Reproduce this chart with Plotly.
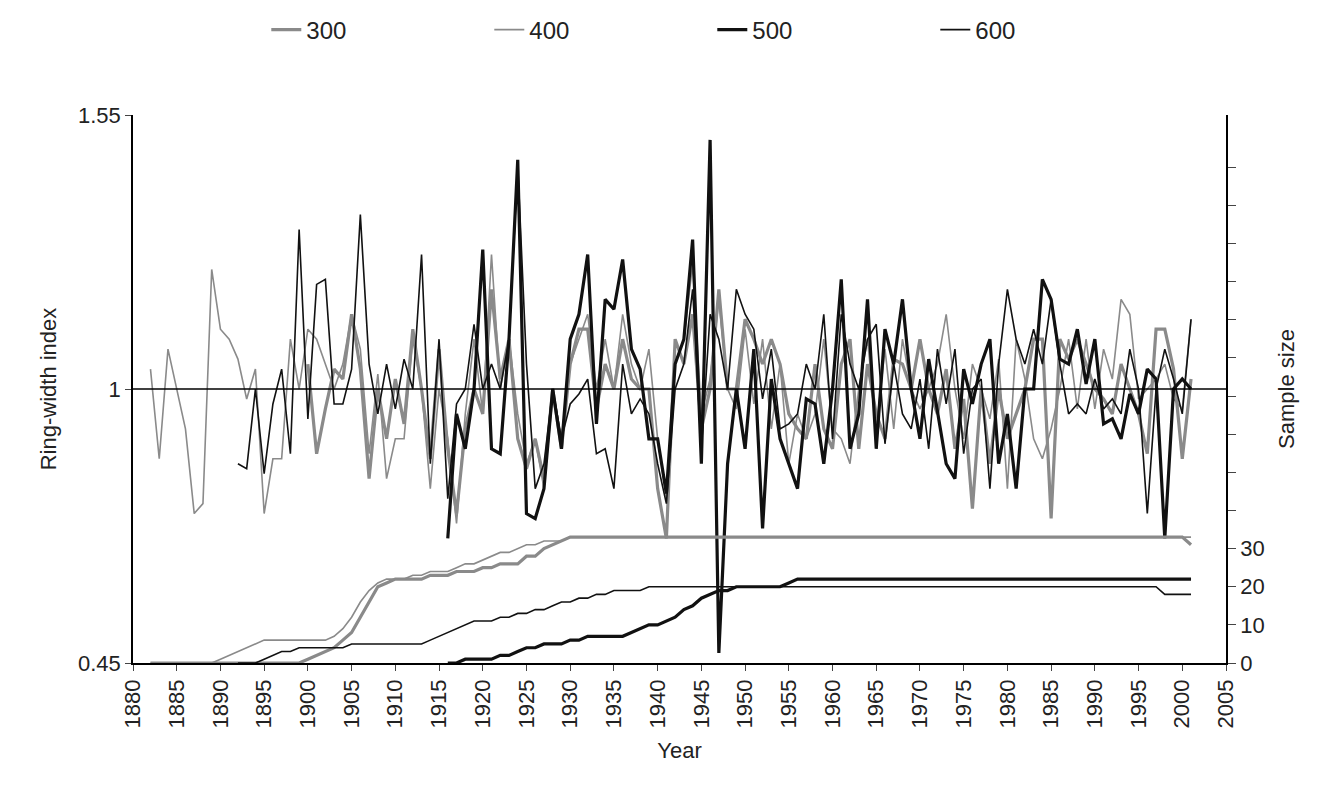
import plotly.graph_objects as go

# --- ring-width index series ---
years_400 = list(range(1882, 2002))
rwi_400 = [1.04, 0.86, 1.08, 1.00, 0.92, 0.75, 0.77, 1.24, 1.12, 1.10, 1.06, 0.98, 1.04, 0.75, 0.86, 0.86,
           1.10, 1.00, 1.12, 1.10, 1.05, 1.00, 1.05, 1.15, 1.08, 0.87, 1.03, 0.82, 0.90, 0.90,
           1.10, 1.00, 0.80, 1.00, 0.90, 0.73, 0.95, 1.10, 0.95, 1.27, 1.00, 1.10, 0.95, 0.85,
           0.90, 0.80, 1.00, 0.90, 1.05, 1.10, 1.15, 1.00, 1.10, 1.00, 1.15, 1.05, 1.00, 1.08,
           0.90, 0.78, 1.05, 1.10, 1.25, 0.95, 1.02, 1.18, 1.00, 0.96, 1.12, 0.97, 1.10, 0.92,
           1.05, 0.85, 0.95, 0.90, 0.95, 1.10, 0.92, 0.90, 0.85, 1.00, 1.10, 0.92, 1.08, 0.92,
           1.10, 1.00, 0.96, 1.00, 1.05, 1.15, 1.00, 0.90, 1.05, 1.00, 0.94, 1.06, 0.80, 1.10,
           1.02, 0.90, 0.86, 0.92, 1.00, 1.10, 0.96, 1.10, 0.96, 1.08, 1.02, 1.18, 1.15, 0.98,
           1.00, 1.02, 1.05, 0.98, 0.96, 1.14]
years_600 = list(range(1892, 2002))
rwi_600 = [0.85, 0.84, 1.00, 0.83, 0.97, 1.04, 0.87, 1.32, 0.94, 1.21, 1.22, 0.97, 0.97, 1.04,
           1.35, 1.05, 0.95, 1.05, 0.96, 1.06, 1.00, 1.27, 0.85, 1.10, 0.78, 0.97, 1.00, 1.13,
           1.00, 1.05, 1.00, 1.10, 1.45, 1.05, 0.80, 0.85, 1.00, 0.90, 0.97, 0.99, 1.02, 0.87,
           0.88, 0.80, 1.05, 0.95, 0.98, 0.95, 0.85, 0.77, 1.00, 1.05, 1.20, 0.88, 1.15, 1.10,
           1.00, 1.20, 1.15, 1.12, 0.98, 1.08, 0.92, 0.93, 0.95, 1.05, 1.00, 1.15, 0.90, 1.15,
           1.05, 1.00, 1.10, 1.13, 0.89, 1.05, 0.95, 0.92, 1.02, 0.88, 1.08, 0.97, 1.08, 0.87,
           1.00, 1.02, 0.80, 1.05, 1.20, 1.10, 1.05, 1.12, 1.05, 1.18, 1.05, 0.95, 0.97, 0.95,
           1.02, 0.96, 0.98, 0.95, 1.08, 1.00, 0.75, 1.00, 1.08, 1.02, 0.95, 1.14]
years_300 = list(range(1900, 2002))
rwi_300 = [1.05, 0.87, 0.96, 1.04, 1.02, 1.15, 1.04, 0.82, 1.00, 0.90, 1.02, 0.93, 1.12, 1.00,
           0.86, 1.08, 0.88, 0.75, 0.92, 1.00, 0.95, 1.20, 1.02, 1.10, 0.90, 0.84, 0.90, 0.82,
           1.00, 0.88, 1.05, 1.12, 1.12, 0.96, 1.05, 1.00, 1.10, 1.02, 1.00, 1.00, 0.80, 0.70,
           1.10, 1.05, 1.15, 0.92, 1.00, 1.20, 1.00, 1.00, 1.14, 1.10, 1.05, 1.10, 1.05, 0.95,
           0.92, 0.90, 1.05, 0.92, 0.88, 1.05, 1.10, 0.88, 1.05, 0.95, 0.90, 1.06, 1.05, 1.00,
           1.10, 1.00, 0.95, 1.04, 0.88, 0.98, 0.76, 1.00, 0.85, 1.00, 0.90, 0.95, 1.00, 1.10,
           1.10, 0.74, 1.10, 1.06, 1.10, 1.05, 1.00, 0.98, 0.95, 1.05, 1.00, 0.95, 0.87, 1.12,
           1.12, 1.04, 0.86, 1.02]
years_500 = list(range(1916, 2002))
rwi_500 = [0.70, 0.95, 0.88, 1.00, 1.28, 0.88, 0.87, 1.10, 1.46, 0.75, 0.74, 0.80, 1.00, 0.88,
           1.10, 1.15, 1.27, 0.93, 1.18, 1.16, 1.26, 1.08, 1.04, 0.90, 0.90, 0.79, 1.05, 1.10,
           1.30, 0.85, 1.50, 0.47, 0.85, 1.00, 0.88, 1.08, 0.72, 1.02, 0.90, 0.85, 0.80, 0.98,
           0.97, 0.85, 1.00, 1.22, 0.88, 0.95, 1.18, 0.88, 1.12, 1.05, 1.18, 1.00, 0.90, 1.06,
           0.95, 0.85, 0.82, 1.04, 0.97, 1.05, 1.10, 0.85, 0.95, 0.80, 1.00, 1.00, 1.22, 1.18,
           1.06, 1.05, 1.12, 1.01, 1.10, 0.93, 0.94, 0.90, 0.99, 0.95, 1.04, 1.02, 0.70, 1.00,
           1.02, 1.00]

# --- sample size (right axis), 1882-2001 for 300/400 ---
n_300 = ([0] * 18 + [1, 2, 3, 4, 6, 8, 12, 16, 20, 21, 22, 22, 22, 22, 23, 23, 23, 24, 24, 24,
          25, 25, 26, 26, 26, 28, 28, 30, 31, 32, 33] + [33] * 70 + [31])
n_400 = ([0] * 8 + [1, 2, 3, 4, 5, 6, 6, 6, 6, 6, 6, 6, 6, 7, 9, 12, 16, 19, 21, 22, 22, 22, 23,
          23, 24, 24, 24, 25, 26, 26, 27, 28, 29, 29, 30, 31, 31, 32, 32, 32, 33] + [33] * 71)
n_600 = ([0, 0, 0, 1, 2, 3, 3, 4, 4, 4, 4, 4, 4, 5, 5, 5, 5, 5, 5, 5, 5, 5, 6, 7, 8, 9, 10, 11,
          11, 11, 12, 12, 13, 13, 14, 14, 15, 16, 16, 17, 17, 18, 18, 19, 19, 19, 19, 20, 20, 20,
          20, 20, 20, 20] + [20] * 52 + [18, 18, 18, 18])
n_500 = ([0, 0, 1, 1, 1, 1, 2, 2, 3, 4, 4, 5, 5, 5, 6, 6, 7, 7, 7, 7, 7, 8, 9, 10, 10, 11, 12,
          14, 15, 17, 18, 19, 19, 20, 20, 20, 20, 20, 20, 21, 22] + [22] * 45)

GRAY = "#8a8a8a"
BLACK = "#111111"

fig = go.Figure()
fig.add_trace(go.Scatter(x=years_300, y=rwi_300, name="300", mode="lines", line=dict(color=GRAY, width=3.2)))
fig.add_trace(go.Scatter(x=years_400, y=rwi_400, name="400", mode="lines", line=dict(color=GRAY, width=1.6)))
fig.add_trace(go.Scatter(x=years_500, y=rwi_500, name="500", mode="lines", line=dict(color=BLACK, width=3.2)))
fig.add_trace(go.Scatter(x=years_600, y=rwi_600, name="600", mode="lines", line=dict(color=BLACK, width=1.6)))

fig.add_trace(go.Scatter(x=years_400, y=n_300, yaxis="y2", mode="lines", showlegend=False, line=dict(color=GRAY, width=3.2)))
fig.add_trace(go.Scatter(x=years_400, y=n_400, yaxis="y2", mode="lines", showlegend=False, line=dict(color=GRAY, width=1.6)))
fig.add_trace(go.Scatter(x=years_600, y=n_600, yaxis="y2", mode="lines", showlegend=False, line=dict(color=BLACK, width=1.6)))
fig.add_trace(go.Scatter(x=years_500, y=n_500, yaxis="y2", mode="lines", showlegend=False, line=dict(color=BLACK, width=3.2)))

fig.add_hline(y=1, line_color="black", line_width=1.5)

right_ticks = list(range(0, 140, 10))
fig.update_layout(
    width=1341, height=811,
    margin=dict(l=125, r=123, t=107, b=156, autoexpand=False),
    paper_bgcolor="white", plot_bgcolor="white",
    font=dict(family="Arial, Liberation Sans, sans-serif", size=22, color="#222"),
    showlegend=True,
    legend=dict(orientation="h", x=0.53, xanchor="center", y=1.155, yanchor="middle",
                font=dict(size=24), itemwidth=30, entrywidthmode="pixels", entrywidth=178),
    xaxis=dict(range=[1880, 2005], tickvals=list(range(1880, 2006, 5)), tickangle=-90,
               ticks="outside", ticklen=6, showline=True, linecolor="black", linewidth=1.5,
               showgrid=False, zeroline=False, title=dict(text="Year", font=dict(size=22))),
    yaxis=dict(range=[0.45, 1.55], tickvals=[0.45, 1, 1.55], ticktext=["0.45", "1", "1.55"],
               ticks="outside", ticklen=6, showline=True, linecolor="black", linewidth=1.5,
               showgrid=False, zeroline=False, title=dict(text="Ring-width index", font=dict(size=22))),
    yaxis2=dict(range=[0, 143.7], overlaying="y", side="right", tickvals=right_ticks,
                ticktext=[str(v) if v <= 30 else "" for v in right_ticks],
                ticks="outside", ticklen=8, showline=True, linecolor="black", linewidth=1.5,
                showgrid=False, zeroline=False, title=dict(text="Sample size", font=dict(size=22))),
)

fig.write_html("out.html")
